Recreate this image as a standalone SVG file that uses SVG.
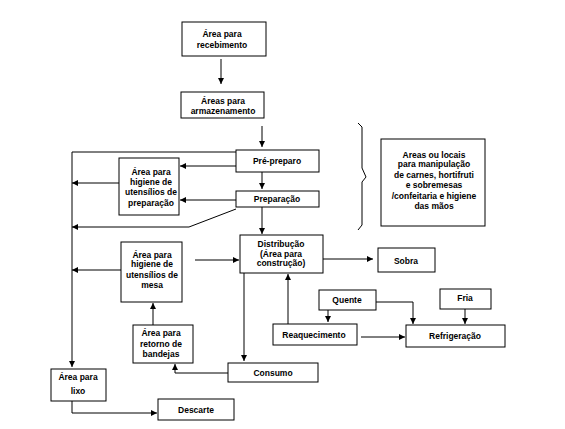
<svg xmlns="http://www.w3.org/2000/svg" width="565" height="429" viewBox="0 0 565 429">
<defs>
<style>
rect.n{fill:#fff;stroke:#000;stroke-width:1}
text{font-family:"Liberation Sans",Arial,sans-serif;font-weight:bold;font-size:8.5px;fill:#000;text-anchor:middle}
.c{fill:none;stroke:#000;stroke-width:1}
</style>
<marker id="a" viewBox="0 0 6 6" refX="6" refY="3" markerWidth="6" markerHeight="6" markerUnits="userSpaceOnUse" orient="auto">
<path d="M0,0 L6,3 L0,6 Z" fill="#000"/>
</marker>
</defs>
<rect width="565" height="429" fill="#fff"/>
<g id="connectors" class="c">
<path class="c" d="M221,59 V84" marker-end="url(#a)"/>
<path class="c" d="M262,126 V147" marker-end="url(#a)"/>
<path class="c" d="M236,152 H72 V367" marker-end="url(#a)"/>
<path class="c" d="M236,166 H180" marker-end="url(#a)"/>
<path class="c" d="M119,183 H72" marker-end="url(#a)"/>
<path class="c" d="M262,172 V189" marker-end="url(#a)"/>
<path class="c" d="M236,200 H180" marker-end="url(#a)"/>
<path class="c" d="M236,209 L189,227 H72" marker-end="url(#a)"/>
<path class="c" d="M262,207 V234" marker-end="url(#a)"/>
<path class="c" d="M195,260 H239" marker-end="url(#a)"/>
<path class="c" d="M121,270 H72" marker-end="url(#a)"/>
<path class="c" d="M323,259 H373" marker-end="url(#a)"/>
<path class="c" d="M244,273 V361" marker-end="url(#a)"/>
<path class="c" d="M288,324 V274" marker-end="url(#a)"/>
<path class="c" d="M153,325 V303" marker-end="url(#a)"/>
<path class="c" d="M328,310 V322" marker-end="url(#a)"/>
<path class="c" d="M376,302 H413 V324" marker-end="url(#a)"/>
<path class="c" d="M465,309 V324" marker-end="url(#a)"/>
<path class="c" d="M361,337 H405" marker-end="url(#a)"/>
<path class="c" d="M228,373 H175 V364" marker-end="url(#a)"/>
<path class="c" d="M72,401 V413 H157" marker-end="url(#a)"/>
<path class="c" d="M358,123 L362,127 V168 L366,177 L362,182 V225 L358,230"/>
</g>
<g id="recebimento"><rect class="n" x="182" y="22" width="84" height="34"/><text x="222" y="37">Área para</text><text x="222" y="48">recebimento</text></g>
<g id="armazenamento"><rect class="n" x="181" y="92" width="83" height="26"/><text x="223" y="104">Áreas para</text><text x="223" y="114">armazenamento</text></g>
<g id="prepreparo"><rect class="n" x="236" y="150" width="83" height="22"/><text x="277" y="164">Pré-preparo</text></g>
<g id="higiene-preparacao"><rect class="n" x="119" y="158" width="60" height="57"/><text x="151" y="175">Área para</text><text x="151" y="185">higiene de</text><text x="151" y="195">utensílios de</text><text x="151" y="206">preparação</text></g>
<g id="preparacao"><rect class="n" x="236" y="191" width="83" height="16"/><text x="277" y="202">Preparação</text></g>
<g id="areas-locais"><rect class="n" x="381" y="139" width="104" height="87"/><text x="434" y="158">Areas ou locais</text><text x="434" y="167">para manipulação</text><text x="434" y="178">de carnes, hortifruti</text><text x="434" y="188">e sobremesas</text><text x="434" y="199">/confeitaria e higiene</text><text x="434" y="209">das mãos</text></g>
<g id="distribuicao"><rect class="n" x="240" y="235" width="83" height="38"/><text x="281" y="247">Distribução</text><text x="281" y="257">(Área para</text><text x="281" y="266">construção)</text></g>
<g id="higiene-mesa"><rect class="n" x="121" y="242" width="61" height="60"/><text x="152" y="258">Área para</text><text x="152" y="267">higiene de</text><text x="152" y="278">utensílios de</text><text x="152" y="288">mesa</text></g>
<g id="sobra"><rect class="n" x="378" y="248" width="57" height="24"/><text x="406" y="264">Sobra</text></g>
<g id="quente"><rect class="n" x="319" y="290" width="57" height="20"/><text x="347" y="303">Quente</text></g>
<g id="fria"><rect class="n" x="440" y="289" width="51" height="20"/><text x="465" y="301">Fria</text></g>
<g id="reaquecimento"><rect class="n" x="273" y="324" width="84" height="21"/><text x="314" y="338">Reaquecimento</text></g>
<g id="refrigeracao"><rect class="n" x="406" y="325" width="99" height="22"/><text x="455" y="339">Refrigeração</text></g>
<g id="retorno"><rect class="n" x="133" y="325" width="60" height="38"/><text x="161" y="336">Área para</text><text x="161" y="347">retorno de</text><text x="161" y="357">bandejas</text></g>
<g id="consumo"><rect class="n" x="228" y="363" width="90" height="19"/><text x="273" y="376">Consumo</text></g>
<g id="lixo"><rect class="n" x="51" y="369" width="55" height="32"/><text x="78" y="380">Área para</text><text x="78" y="394">lixo</text></g>
<g id="descarte"><rect class="n" x="158" y="399" width="76" height="21"/><text x="196" y="413">Descarte</text></g>
</svg>
